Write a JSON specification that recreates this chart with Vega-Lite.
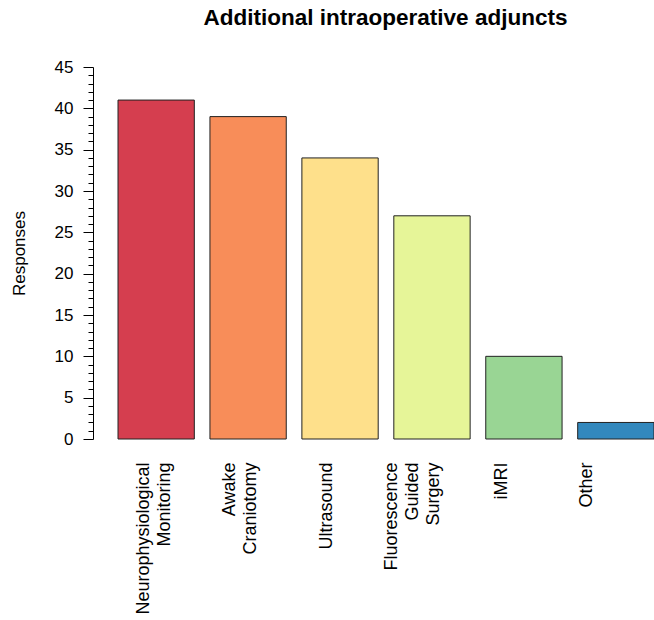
{
  "$schema": "https://vega.github.io/schema/vega-lite/v6.json",
  "width": 561,
  "height": 372,
  "padding": {"left": 10, "top": 7, "right": 0, "bottom": 0},
  "autosize": {"type": "pad"},
  "background": "white",
  "config": {"view": {"stroke": null}, "font": "Liberation Sans"},
  "title": {
    "text": "Additional intraoperative adjuncts",
    "fontSize": 22.5,
    "fontWeight": "bold",
    "font": "Liberation Sans",
    "color": "black",
    "offset": 28.5,
    "anchor": "middle",
    "frame": "group",
    "dx": 12
  },
  "data": {
    "values": [
      {"adjunct": "Neurophysiological|Monitoring", "responses": 41},
      {"adjunct": "Awake|Craniotomy", "responses": 39},
      {"adjunct": "Ultrasound", "responses": 34},
      {"adjunct": "Fluorescence|Guided|Surgery", "responses": 27},
      {"adjunct": "iMRI", "responses": 10},
      {"adjunct": "Other", "responses": 2}
    ]
  },
  "mark": {"type": "bar", "stroke": "#222222", "strokeWidth": 1},
  "encoding": {
    "x": {
      "field": "adjunct",
      "type": "nominal",
      "sort": null,
      "scale": {"paddingInner": 0.17, "paddingOuter": 0.136, "align": 1},
      "axis": {
        "title": null,
        "labelAngle": -90,
        "labelExpr": "split(datum.label, '|')",
        "labelOffset": {
          "condition": [
            {"test": "datum.value === 'Neurophysiological|Monitoring'", "value": -12.5},
            {"test": "datum.value === 'Awake|Craniotomy'", "value": -18.5},
            {"test": "datum.value === 'Ultrasound'", "value": -13.5},
            {"test": "datum.value === 'Fluorescence|Guided|Surgery'", "value": -39.5},
            {"test": "datum.value === 'iMRI'", "value": -21.5}
          ],
          "value": -28.5
        },
        "domain": false,
        "ticks": false,
        "tickSize": 0,
        "labelPadding": 23,
        "labelFontSize": 18,
        "labelColor": "black",
        "labelLineHeight": 21,
        "labelFont": "Liberation Sans",
        "labelLimit": 0
      }
    },
    "y": {
      "field": "responses",
      "type": "quantitative",
      "scale": {"domain": [0, 45], "nice": false},
      "axis": {
        "title": "Responses",
        "titleFontSize": 17,
        "titleFontWeight": "normal",
        "titleFont": "Liberation Sans",
        "titleColor": "black",
        "titlePadding": 26,
        "values": [0,1,2,3,4,5,6,7,8,9,10,11,12,13,14,15,16,17,18,19,20,21,22,23,24,25,26,27,28,29,30,31,32,33,34,35,36,37,38,39,40,41,42,43,44,45],
        "labelExpr": "datum.value % 5 === 0 ? datum.label : ''",
        "tickSize": {"condition": {"test": "datum.value % 5 === 0", "value": 10}, "value": 5},
        "labelPadding": 10,
        "labelFontSize": 17,
        "labelFont": "Liberation Sans",
        "labelColor": "black",
        "labelOverlap": false,
        "grid": false,
        "domainColor": "black",
        "tickColor": "black"
      }
    },
    "color": {
      "field": "adjunct",
      "type": "nominal",
      "sort": null,
      "scale": {"range": ["#D53E4F", "#F88D59", "#FEE08B", "#E6F598", "#99D594", "#3288BD"]},
      "legend": null
    }
  }
}
